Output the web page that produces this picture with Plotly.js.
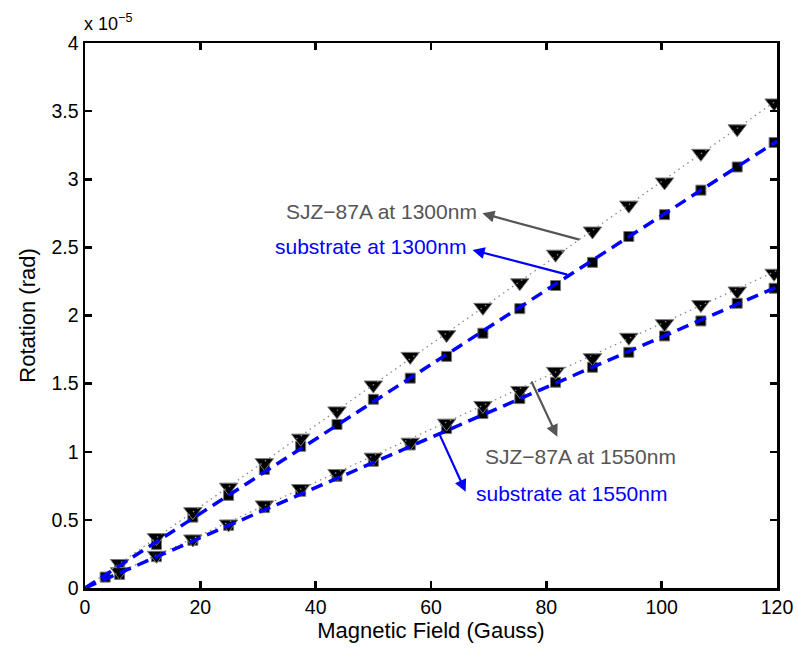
<!DOCTYPE html>
<html>
<head>
<meta charset="utf-8">
<script src="https://cdn.plot.ly/plotly-3.0.1.min.js"></script>
<style>html,body{margin:0;padding:0;background:#fff;}#plot{width:797px;height:654px;}</style>
</head>
<body>
<div id="plot"></div>
<script>
// Magnetic field (Gauss)
var fieldX = [6.0, 12.4, 18.7, 24.9, 31.1, 37.4, 43.7, 50.0, 56.4, 62.7, 69.0, 75.4, 81.6, 88.0, 94.3, 100.5, 106.8, 113.1, 119.5];
var fieldXSub1300 = [3.5, 6.0, 12.4, 18.7, 24.9, 31.1, 37.4, 43.7, 50.0, 56.4, 62.7, 69.0, 75.4, 81.6, 88.0, 94.3, 100.5, 106.8, 113.1, 119.5];
// Rotation in units of 1e-5 rad
var sjz1300 = [0.18, 0.37, 0.56, 0.74, 0.92, 1.10, 1.30, 1.49, 1.70, 1.86, 2.06, 2.24, 2.45, 2.62, 2.81, 2.98, 3.19, 3.37, 3.56];
var sub1300 = [0.08, 0.16, 0.32, 0.52, 0.68, 0.87, 1.04, 1.20, 1.385, 1.54, 1.70, 1.87, 2.05, 2.22, 2.39, 2.58, 2.74, 2.92, 3.09, 3.27];
var sjz1550 = [0.12, 0.24, 0.36, 0.47, 0.61, 0.73, 0.84, 0.96, 1.07, 1.21, 1.34, 1.45, 1.59, 1.69, 1.84, 1.94, 2.08, 2.18, 2.31];
var sub1550 = [0.10, 0.23, 0.35, 0.46, 0.59, 0.71, 0.82, 0.93, 1.05, 1.17, 1.28, 1.39, 1.51, 1.62, 1.73, 1.85, 1.96, 2.09, 2.20];
// Linear fit lines
var fitX = [0, 120];
var fitSJZ1300 = [0, 3.58];
var fitSub1300 = [0, 3.28];
var fitSJZ1550 = [0, 2.33];
var fitSub1550 = [0, 2.21];
// Labels
var xTicks = [0, 20, 40, 60, 80, 100, 120];
var yTicks = [0, 0.5, 1, 1.5, 2, 2.5, 3, 3.5, 4];
var labelSJZ1300 = 'SJZ\u221287A at 1300nm';
var labelSub1300 = 'substrate at 1300nm';
var labelSJZ1550 = 'SJZ\u221287A at 1550nm';
var labelSub1550 = 'substrate at 1550nm';

var FONT = '"Liberation Sans", Arial, Helvetica, sans-serif';
var GRAY = '#555555';
var BLUE = '#0000ff';

var sqMarker = {symbol: 'square', size: 10, color: '#000', line: {color: '#777', width: 1}};
var triMarker = {symbol: 'triangle-down', size: 16, color: '#000', line: {color: '#777', width: 1}};

var traces = [
  {x: fieldXSub1300, y: sub1300, mode: 'markers', type: 'scatter', marker: sqMarker},
  {x: fieldX, y: sub1550, mode: 'markers', type: 'scatter', marker: sqMarker},
  {x: fieldX, y: sjz1300, mode: 'markers', type: 'scatter', marker: triMarker},
  {x: fieldX, y: sjz1550, mode: 'markers', type: 'scatter', marker: triMarker},
  {x: fitX, y: fitSJZ1300, mode: 'lines', type: 'scatter', line: {color: '#888', width: 1.3, dash: '1.5px,4px'}},
  {x: fitX, y: fitSJZ1550, mode: 'lines', type: 'scatter', line: {color: '#888', width: 1.3, dash: '1.5px,4px'}},
  {x: fitX, y: fitSub1300, mode: 'lines', type: 'scatter', line: {color: BLUE, width: 3.5, dash: '12px,7px'}},
  {x: fitX, y: fitSub1550, mode: 'lines', type: 'scatter', line: {color: BLUE, width: 3.5, dash: '12px,7px'}}
];

function arrow(hx, hy, tx, ty, color) {
  return {x: hx, y: hy, ax: tx, ay: ty, xref: 'x', yref: 'y', axref: 'x', ayref: 'y',
    text: '', showarrow: true, arrowhead: 2, arrowsize: 1.1, arrowwidth: 2.2, arrowcolor: color,
    standoff: 0, startstandoff: 0};
}
function label(x, y, text, color, anchor) {
  return {x: x, y: y, xref: 'x', yref: 'y', text: text, showarrow: false, xanchor: anchor, yanchor: 'middle',
    font: {family: FONT, size: 21, color: color}};
}

var annotations = [
  label(68.25, 2.767, labelSJZ1300, GRAY, 'right'),
  arrow(68.9, 2.75, 86.0, 2.554, GRAY),
  label(66.5, 2.505, labelSub1300, BLUE, 'right'),
  arrow(67.2, 2.481, 83.9, 2.297, BLUE),
  label(69.1, 0.964, labelSJZ1550, GRAY, 'left'),
  arrow(81.9, 1.110, 77.3, 1.527, GRAY),
  label(67.4, 0.695, labelSub1550, BLUE, 'left'),
  arrow(66.0, 0.707, 61.4, 1.135, BLUE),
  {x: 0, y: 1, xref: 'paper', yref: 'paper', xanchor: 'left', yanchor: 'bottom', yshift: 7, xshift: -3,
    text: 'x 10<sup>\u22125</sup>', showarrow: false, font: {family: FONT, size: 18, color: '#000'}}
];

var axisCommon = {
  showgrid: false, zeroline: false, showline: true, linecolor: '#000', linewidth: 2.5, mirror: 'ticks',
  ticks: 'inside', ticklen: 7, tickwidth: 2.5, tickcolor: '#000',
  tickfont: {family: FONT, size: 19.5, color: '#000'}
};

var layout = {
  width: 797, height: 654,
  margin: {l: 85, r: 20, t: 43, b: 66},
  paper_bgcolor: '#fff', plot_bgcolor: '#fff',
  showlegend: false,
  xaxis: Object.assign({}, axisCommon, {
    range: [0, 120], tickvals: xTicks, ticktext: xTicks.map(String),
    title: {text: 'Magnetic Field (Gauss)', font: {family: FONT, size: 22, color: '#000'}, standoff: 4}
  }),
  yaxis: Object.assign({}, axisCommon, {
    range: [0, 4], tickvals: yTicks, ticktext: yTicks.map(String),
    title: {text: 'Rotation (rad)', font: {family: FONT, size: 22, color: '#000'}, standoff: 10}
  }),
  annotations: annotations
};

Plotly.newPlot('plot', traces, layout, {staticPlot: true, displayModeBar: false});
</script>
</body>
</html>
